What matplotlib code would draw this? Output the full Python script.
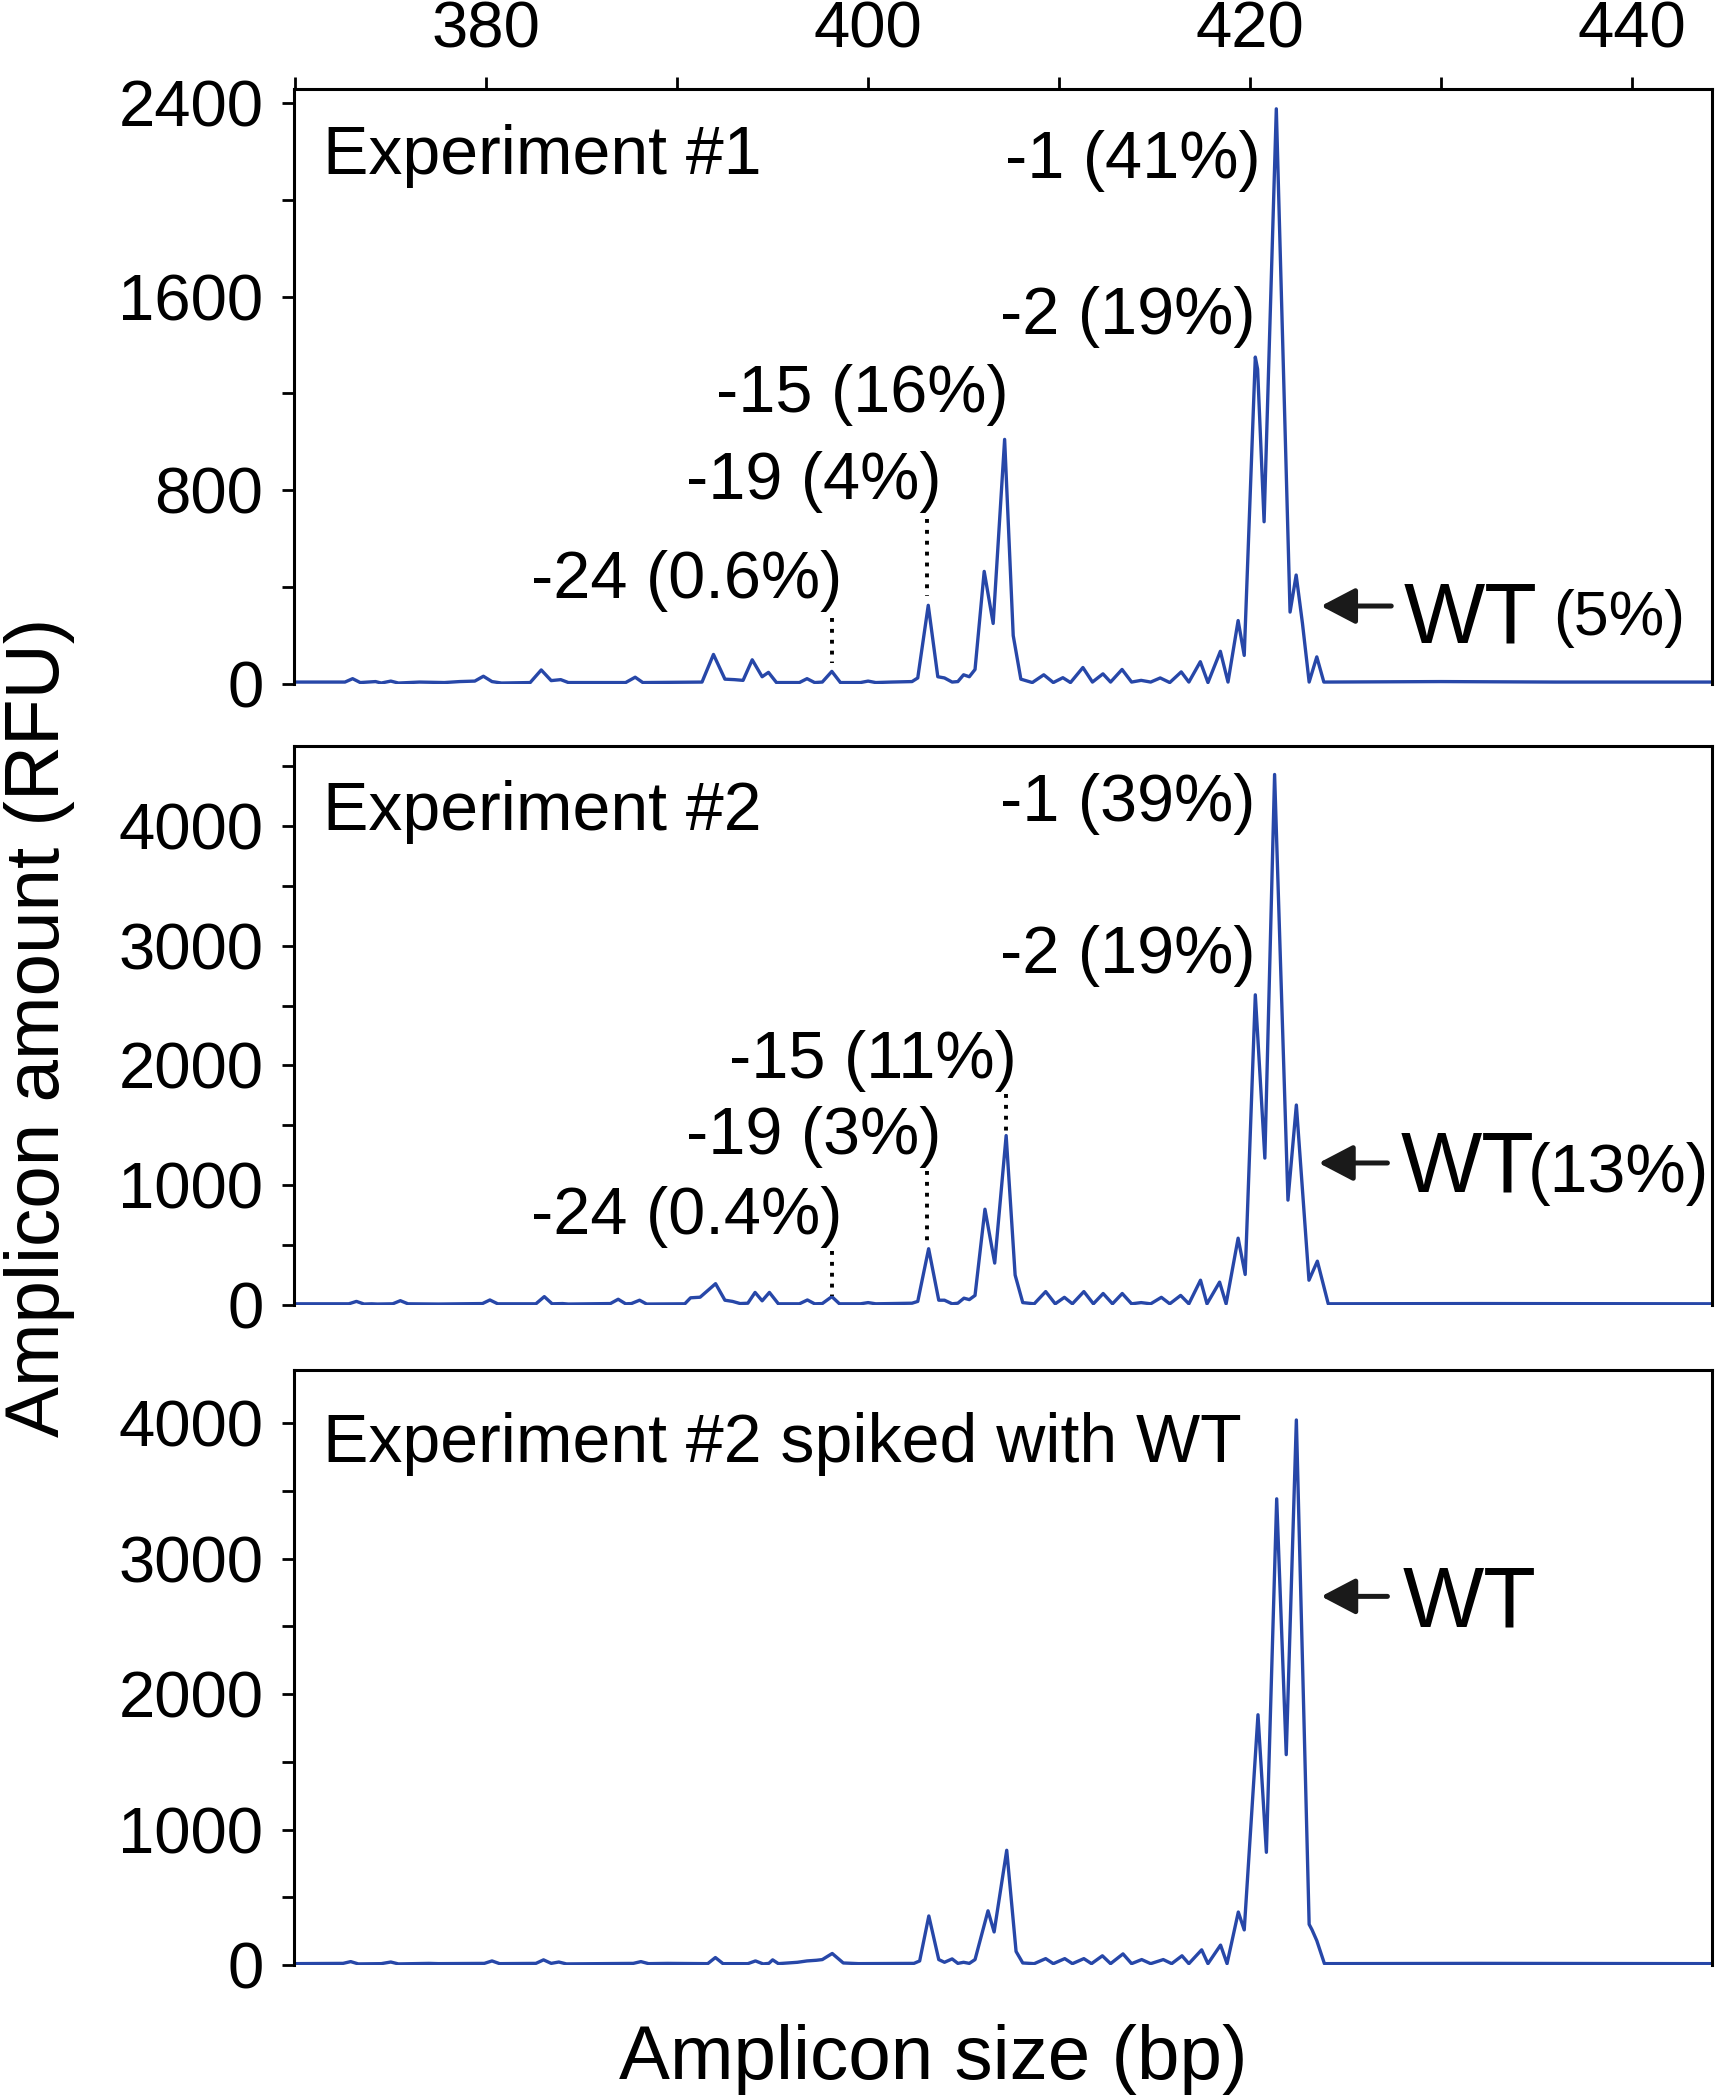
import matplotlib
matplotlib.use("Agg")
import matplotlib.pyplot as plt
from matplotlib.ticker import MultipleLocator

plt.rcParams['font.family'] = ['Liberation Sans', 'DejaVu Sans']

# Trace vertices (size in bp, amount in RFU)
exp1_bp = [370.0, 372.6, 373.0, 373.4, 374.2, 374.5, 375.0, 375.4, 376.5, 377.8,
           378.6, 379.4, 379.85, 380.3, 380.8, 382.3, 382.88, 383.4, 383.9, 384.3,
           387.3, 387.8, 388.2, 391.3, 391.9, 392.5, 393.0, 393.45, 393.93, 394.45,
           394.78, 395.2, 396.4, 396.8, 397.2, 397.6, 398.1, 398.55, 399.6, 400.0,
           400.4, 401.2, 402.3, 402.6, 403.15, 403.65, 404.0, 404.4, 404.7, 405.0,
           405.3, 405.6, 406.08, 406.55, 407.15, 407.6, 408.0, 408.6, 409.2, 409.7,
           410.2, 410.6, 411.25, 411.75, 412.3, 412.7, 413.3, 413.8, 414.3, 414.8,
           415.3, 415.8, 416.4, 416.8, 417.4, 417.8, 418.45, 418.85, 419.38, 419.7,
           420.28, 420.4, 420.74, 421.38, 422.1, 422.42, 422.75, 423.1, 423.5, 423.87,
           430.0, 436.0, 444.2]
exp1_rfu = [8, 8, 22, 6, 10, 4, 12, 4, 8, 6,
            10, 12, 32, 10, 4, 6, 58, 14, 18, 6,
            6, 28, 6, 8, 122, 20, 18, 15, 100, 30,
            48, 6, 6, 22, 6, 8, 52, 6, 6, 12,
            6, 8, 10, 25, 325, 30, 25, 8, 10, 38,
            30, 60, 465, 250, 1010, 200, 20, 6, 38, 6,
            26, 6, 68, 8, 42, 8, 60, 8, 15, 8,
            25, 6, 50, 8, 92, 6, 135, 8, 262, 118,
            1350, 1300, 670, 2375, 297, 450, 250, 8, 112, 8,
            10, 8, 8]

exp2_bp = [370.0, 372.8, 373.2, 373.6, 374.0, 374.3, 375.1, 375.5, 375.9, 377.5,
           379.8, 380.19, 380.6, 382.6, 383.04, 383.45, 384.0, 384.3, 386.5, 386.91,
           387.3, 387.6, 388.03, 388.4, 390.4, 390.7, 391.2, 392.01, 392.5, 392.9,
           393.3, 393.7, 394.08, 394.45, 394.83, 395.3, 396.4, 396.82, 397.2, 397.6,
           398.1, 398.5, 399.6, 400.0, 400.4, 401.2, 402.3, 402.6, 403.17, 403.7,
           404.0, 404.4, 404.7, 405.02, 405.3, 405.6, 406.12, 406.63, 407.23, 407.7,
           408.1, 408.7, 409.3, 409.8, 410.28, 410.7, 411.3, 411.8, 412.31, 412.8,
           413.31, 413.8, 414.3, 414.8, 415.36, 415.8, 416.37, 416.8, 417.41, 417.75,
           418.41, 418.75, 419.38, 419.75, 420.28, 420.78, 421.29, 421.99, 422.43, 423.09,
           423.53, 424.1, 432.0, 444.2]
exp2_rfu = [10, 10, 30, 8, 10, 8, 10, 36, 10, 8,
            12, 42, 10, 10, 70, 10, 12, 8, 12, 48,
            10, 12, 40, 8, 10, 60, 65, 178, 40, 30,
            12, 15, 105, 35, 105, 10, 10, 42, 10, 12,
            70, 10, 10, 20, 10, 12, 15, 30, 470, 40,
            40, 10, 15, 57, 45, 80, 800, 350, 1415, 250,
            20, 10, 112, 10, 64, 10, 112, 10, 96, 10,
            96, 10, 20, 10, 64, 10, 80, 10, 207, 10,
            191, 10, 558, 255, 2590, 1227, 4430, 876, 1670, 207,
            366, 10, 12, 10]

spiked_bp = [370.0, 372.5, 372.9, 373.3, 374.5, 375.0, 375.4, 377.0, 377.5, 379.9,
             380.3, 380.7, 382.6, 383.0, 383.4, 383.8, 384.2, 387.7, 388.1, 388.5,
             389.5, 391.6, 392.0, 392.4, 393.7, 394.1, 394.5, 394.8, 395.0, 395.3,
             396.3, 396.8, 397.3, 397.6, 398.12, 398.7, 399.5, 402.4, 402.7, 403.18,
             403.7, 404.0, 404.4, 404.7, 405.0, 405.3, 405.6, 406.28, 406.6, 407.26,
             407.75, 408.1, 408.7, 409.3, 409.7, 410.3, 410.7, 411.3, 411.7, 412.27,
             412.7, 413.35, 413.8, 414.33, 414.8, 415.46, 415.9, 416.44, 416.8, 417.47,
             417.8, 418.46, 418.8, 419.39, 419.7, 420.42, 420.86, 421.4, 421.9, 422.43,
             423.1, 423.25, 423.5, 423.9, 432.0, 444.2]
spiked_rfu = [10, 12, 25, 8, 10, 22, 8, 12, 10, 12,
              30, 10, 12, 38, 12, 22, 8, 12, 25, 10,
              12, 10, 55, 10, 10, 30, 8, 12, 38, 10,
              20, 30, 35, 40, 85, 15, 10, 12, 30, 362,
              40, 20, 45, 12, 20, 12, 40, 400, 244, 847,
              100, 15, 10, 47, 10, 47, 10, 47, 10, 68,
              10, 82, 10, 40, 10, 40, 10, 68, 10, 112,
              10, 147, 10, 391, 259, 1847, 832, 3441, 1553, 4023,
              300, 260, 180, 10, 12, 10]

panel_titles = ["Experiment #1", "Experiment #2", "Experiment #2 spiked with WT"]
title_y = [2105, 3966, 3713]

# peak labels: (text, right end x, baseline y)
exp1_labels = [("-1 (41%)", 420.57, 2091), ("-2 (19%)", 420.29, 1444),
               ("-15 (16%)", 407.37, 1123), ("-19 (4%)", 403.86, 763),
               ("-24 (0.6%)", 398.67, 354)]
exp2_labels = [("-1 (39%)", 420.29, 4045), ("-2 (19%)", 420.29, 2771),
               ("-15 (11%)", 407.8, 1899), ("-19 (3%)", 403.86, 1263),
               ("-24 (0.4%)", 398.67, 592)]
# dotted leaders: (x, y_top, y_bottom)
exp1_leaders = [(403.1, 680, 365), (398.1, 271, 88)]
exp2_leaders = [(407.23, 1765, 1419), (403.1, 1117, 503), (398.1, 447, 78)]

blue = "#2747a8"
W, H = 1719, 2100
fig = plt.figure(figsize=(W / 100, H / 100), dpi=100)

left = 294 / W
width = (1712 - 294) / W
boxes = [(88.5, 684), (746, 1305), (1370, 1965)]
ymaxes = [2459, 4668, 4392]
majors = [800, 1000, 1000]
minors = [400, 500, 500]
traces = [(exp1_bp, exp1_rfu), (exp2_bp, exp2_rfu), (spiked_bp, spiked_rfu)]

axes = []
for i in range(3):
    top, bot = boxes[i]
    ax = fig.add_axes([left, 1 - bot / H, width, (bot - top) / H])
    x, y = traces[i]
    ax.plot(x, y, color=blue, lw=2.4, solid_joinstyle='round')
    ax.set_xlim(369.93, 444.2)
    ax.set_ylim(0, ymaxes[i])
    ax.spines['bottom'].set_visible(False)
    for s in ['left', 'top', 'right']:
        ax.spines[s].set_linewidth(2.2)
    ax.yaxis.set_major_locator(MultipleLocator(majors[i]))
    ax.yaxis.set_minor_locator(MultipleLocator(minors[i]))
    ax.tick_params(axis='y', which='both', direction='out', length=9, width=2.0,
                   labelsize=47, pad=13, right=False)
    ax.text(371.45, title_y[i], panel_titles[i], fontsize=49, ha='left', va='baseline')
    if i == 0:
        ax.xaxis.tick_top()
        ax.set_xticks([380, 400, 420, 440])
        ax.xaxis.set_minor_locator(MultipleLocator(10))
        ax.tick_params(axis='x', which='both', direction='out', length=9, width=2.0,
                       labelsize=47, pad=11)
    else:
        ax.set_xticks([])
    axes.append(ax)

ax1, ax2, ax3 = axes

for ax, labels, leaders in [(ax1, exp1_labels, exp1_leaders), (ax2, exp2_labels, exp2_leaders)]:
    for txt, xr, yb in labels:
        ax.text(xr, yb, txt, fontsize=48, ha='right', va='baseline')
    for xl, y0, y1 in leaders:
        ax.plot([xl, xl], [y0, y1], color='k', lw=2.8, ls=(0, (1, 1.8)))

arrow = dict(arrowstyle='-|>,head_length=1.05,head_width=0.55', lw=3.6, color='#1a1a1a',
             mutation_scale=20, shrinkA=0, shrinkB=0)
ax1.annotate('', xy=(423.72, 322), xytext=(427.4, 322), arrowprops=arrow)
ax1.text(428.07, 173, "WT", fontsize=62, ha='left', va='baseline')
ax1.text(435.9, 202, "(5%)", fontsize=45, ha='left', va='baseline')
ax2.annotate('', xy=(423.6, 1186), xytext=(427.2, 1186), arrowprops=arrow)
ax2.text(427.9, 944, "WT", fontsize=62, ha='left', va='baseline')
ax2.text(434.55, 944, "(13%)", fontsize=49, ha='left', va='baseline')
ax3.annotate('', xy=(423.73, 2721), xytext=(427.2, 2721), arrowprops=arrow)
ax3.text(428.0, 2499, "WT", fontsize=62, ha='left', va='baseline')

fig.text(40 / W, 1 - 1027 / H, "Amplicon amount (RFU)", rotation=90, fontsize=55,
         ha='center', va='center')
fig.text(933 / W, 1 - 2079 / H, "Amplicon size (bp)", fontsize=55, ha='center', va='baseline')

fig.savefig("out.png", dpi=100)
